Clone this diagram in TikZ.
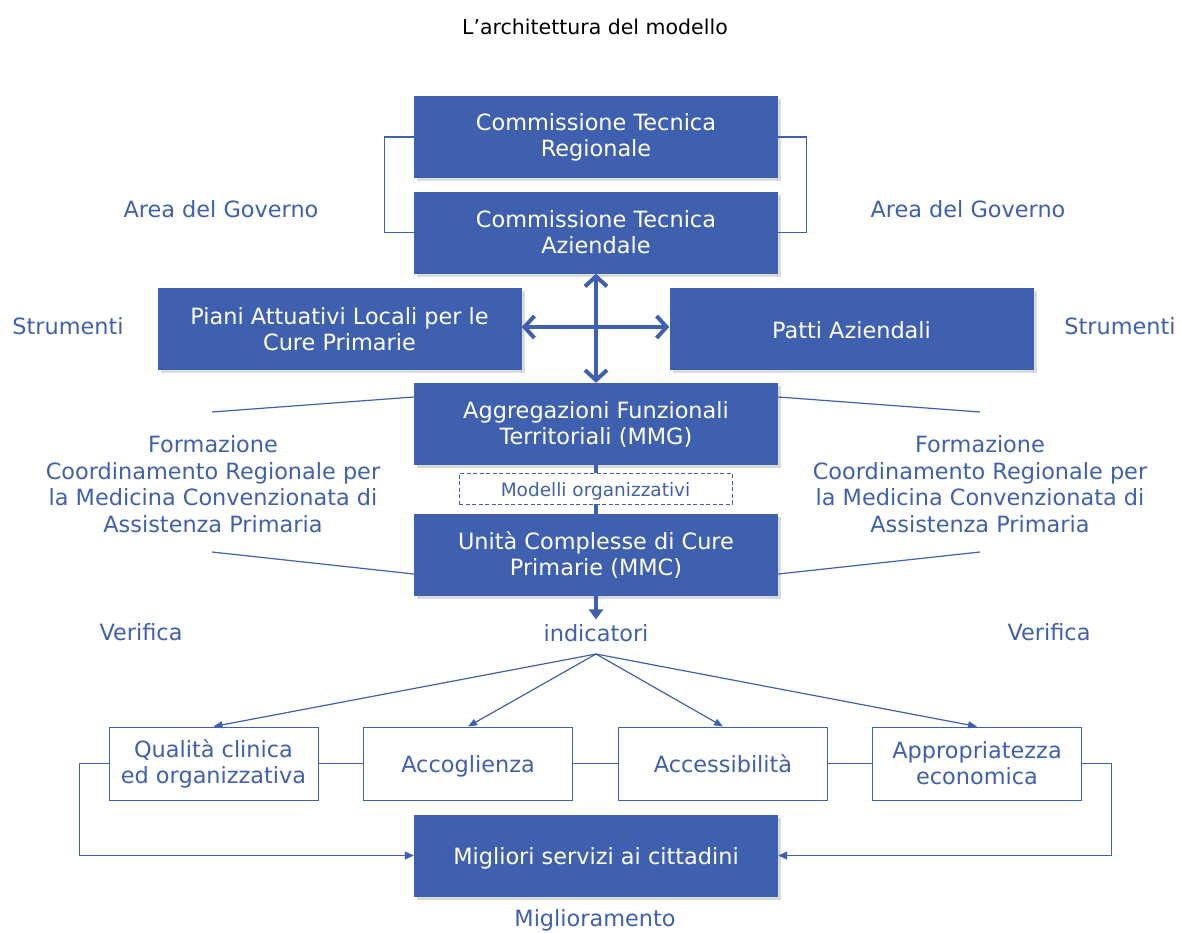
\documentclass[tikz,border=0pt]{standalone}
\usepackage{fontspec}
\setmainfont{DejaVu Sans}
\usetikzlibrary{arrows.meta,shadows}
\definecolor{bl}{HTML}{3F5FAF}
\begin{document}
\begin{tikzpicture}[x=1pt,y=-1pt,
  fbox/.style={fill=bl, text=white, minimum width=364pt, minimum height=82pt, align=center,
    font=\fontsize{22.4}{26}\selectfont, inner sep=0pt,
    drop shadow={opacity=0.3, shadow xshift=3pt, shadow yshift=-3pt}},
  obox/.style={draw=bl, line width=1pt, text=bl, fill=white, minimum width=209pt,
    minimum height=73pt, align=center, font=\fontsize{22.4}{26}\selectfont, inner sep=0pt},
  one/.style={text height=18pt, text depth=0pt},
  lbl/.style={text=bl, font=\fontsize{22.4}{26.7}\selectfont, align=center},
  thinl/.style={draw=bl, line width=1.2pt},
  thickl/.style={draw=bl, line width=4pt},
  barb/.tip={Straight Barb[length=10pt,width=22pt]}]
\useasboundingbox (0,0) rectangle (1181,932);

\node[font=\fontsize{20.5}{24}\selectfont] (title) at (595,27) {L’architettura del modello};

\node[fbox] (ctr) at (596,137) {Commissione Tecnica\\Regionale};
\node[fbox] (cta) at (596,232.5) {Commissione Tecnica\\Aziendale};
\node[fbox] (pal) at (339.5,329) {Piani Attuativi Locali per le\\Cure Primarie};
\node[fbox, one] (pat) at (851.5,329) {Patti Aziendali};
\node[fbox] (aft) at (596,424) {Aggregazioni Funzionali\\Territoriali (MMG)};
\node[fbox] (ucc) at (596,555) {Unità Complesse di Cure\\Primarie (MMC)};
\node[fbox, one] (mig) at (596,855.5) {Migliori servizi ai cittadini};

% brackets
\draw[thinl] (ctr.west) -- ++(-29,0) |- (cta.west);
\draw[thinl] (ctr.east) -- ++(28,0) |- (cta.east);

% thick double arrows
\draw[thickl, barb-barb] (cta.south) -- (aft.north);
\draw[thickl, barb-barb] ([yshift=2pt]pal.east) -- ([yshift=2pt]pat.west);

% aft to ucc
\draw[draw=bl, line width=3.5pt] (aft.south) -- (ucc.north);
\node[draw=bl, dash pattern=on 4pt off 2.5pt, line width=1pt, minimum width=273pt, minimum height=31pt, text=bl,
  font=\fontsize{18.5}{22}\selectfont, fill=white, inner sep=0pt, text height=15pt, text depth=0pt] (mod) at (595.5,488.5) {Modelli organizzativi};

% side lines
\coordinate (la) at (212,412);
\coordinate (ra) at (980,412);
\coordinate (lb) at (212,552);
\coordinate (rb) at (980,552);
\draw[thinl] ([yshift=27pt]aft.west) -- (la);
\draw[thinl] ([yshift=27pt]aft.east) -- (ra);
\draw[thinl] ([yshift=-19pt]ucc.west) -- (lb);
\draw[thinl] ([yshift=-19pt]ucc.east) -- (rb);

% labels
\node[lbl] (ag1) at (221,209) {Area del Governo};
\node[lbl] (ag2) at (968,209) {Area del Governo};
\node[lbl] (st1) at (68,326) {Strumenti};
\node[lbl] (st2) at (1120,326) {Strumenti};
\node[lbl] (fo1) at (213,484) {Formazione\\Coordinamento Regionale per\\la Medicina Convenzionata di\\Assistenza Primaria};
\node[lbl] (fo2) at (980,484) {Formazione\\Coordinamento Regionale per\\la Medicina Convenzionata di\\Assistenza Primaria};
\node[lbl] (ve1) at (141,632) {Verifica};
\node[lbl] (ve2) at (1049,632) {Verifica};
\node[lbl, one] (ind) at (596,632) {indicatori};
\node[lbl] (mgl) at (595,920) {Miglioramento};

\draw[draw=bl, line width=3.5pt, -{Triangle[length=10pt,width=14pt]}] (ucc.south) -- (ind.north);

% bottom boxes
\node[obox] (q) at (213.5,763.5) {Qualità clinica\\ed organizzativa};
\node[obox, one] (acg) at (468,763.5) {Accoglienza};
\node[obox, one] (acs) at (723,763.5) {Accessibilità};
\node[obox] (app) at (977,763.5) {Appropriatezza\\economica};

\coordinate (hub) at (596,654);
\foreach \t in {q,acg,acs,app}
  \draw[thinl, -{Triangle[length=9pt,width=7pt]}] (hub) -- (\t.north);

\draw[thinl] (q.east) -- (acg.west);
\draw[thinl] (acg.east) -- (acs.west);
\draw[thinl] (acs.east) -- (app.west);

\draw[thinl, -{Triangle[length=9pt,width=8pt]}] (q.west) -- ++(-29,0) |- (mig.west);
\draw[thinl, -{Triangle[length=9pt,width=8pt]}] (app.east) -- ++(29.5,0) |- (mig.east);
\end{tikzpicture}
\end{document}
